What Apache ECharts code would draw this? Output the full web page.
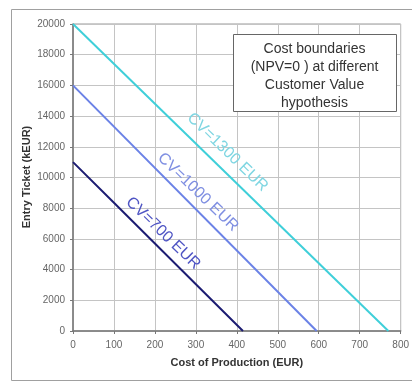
<!DOCTYPE html>
<html><head><meta charset="utf-8">
<script src="https://cdn.jsdelivr.net/npm/echarts@6/dist/echarts.min.js"></script>
<style>html,body{margin:0;padding:0;background:#fff}#c{width:412px;height:381px}</style>
</head><body><div id="c"></div>
<script>
var cv1300 = [[0,20000],[770,0]];
var cv1000 = [[0,16000],[595,0]];
var cv700 = [[0,11000],[100,8350],[200,5700],[300,3050],[415,0]];
var lineNames = ['CV=1300 EUR','CV=1000 EUR','CV=700 EUR'];
var labelPos = [[377,11650],[305,9045],[220,6370]];
var xTicks = [0,100,200,300,400,500,600,700,800];
var yTicks = [0,2000,4000,6000,8000,10000,12000,14000,16000,18000,20000];
var titleLines = ['Cost boundaries','(NPV=0 ) at different','Customer Value','hypothesis'];
var xAxisName = 'Cost of Production (EUR)';
var yAxisName = 'Entry Ticket (kEUR)';

var lineColors = ['#3fcfd9','#6b82e6','#1c1c72'];
var labelColors = ['#7fd6e2','#7f8fe2','#4f55c4'];
var datasets = [cv1300, cv1000, cv700];

var chart = echarts.init(document.getElementById('c'));
var series = datasets.map(function(d,i){
  return {
    type:'line', data:d, showSymbol:false, symbol:'none',
    lineStyle:{color:lineColors[i], width:2},
    silent:true,
    markPoint:{
      symbol:'circle', symbolSize:0,
      data:[{coord:labelPos[i], value:lineNames[i]}],
      label:{show:true, formatter:lineNames[i], rotate:-44, color:labelColors[i],
        fontFamily:'Liberation Sans, Arial, sans-serif', fontSize:16, position:'inside'}
    }
  };
});
chart.setOption({
  animation:false,
  grid:{left:73, top:24, right:9, bottom:50, show:true, borderColor:'#999', borderWidth:1},
  xAxis:{type:'value', min:xTicks[0], max:xTicks[xTicks.length-1], interval:xTicks[1]-xTicks[0],
    name:xAxisName, nameLocation:'middle', nameGap:26,
    nameTextStyle:{fontFamily:'Liberation Sans, Arial, sans-serif', fontSize:11, fontWeight:'bold', color:'#333'},
    axisLine:{show:true, lineStyle:{color:'#777', width:1.5}},
    axisTick:{show:true, length:3, lineStyle:{color:'#777'}},
    axisLabel:{color:'#666', fontSize:10, fontFamily:'Liberation Sans, Arial, sans-serif', margin:9,
      formatter:function(v){return String(v);}},
    splitLine:{show:true, lineStyle:{color:'#c4c4c4'}}},
  yAxis:{type:'value', min:yTicks[0], max:yTicks[yTicks.length-1], interval:yTicks[1]-yTicks[0],
    axisLine:{show:true, lineStyle:{color:'#777', width:1.5}},
    axisTick:{show:true, length:3, lineStyle:{color:'#777'}},
    axisLabel:{color:'#666', fontSize:10, fontFamily:'Liberation Sans, Arial, sans-serif', margin:8,
      formatter:function(v){return String(v);}},
    splitLine:{show:true, lineStyle:{color:'#c4c4c4'}}},
  graphic:[
    {type:'rect', left:9, top:7, shape:{width:420, height:371}, style:{fill:'none', stroke:'#a0a0a0', lineWidth:1}, z:-10},
    {type:'text', x:27, y:177, rotation:Math.PI/2, z:50,
      style:{text:yAxisName, textAlign:'center', textVerticalAlign:'middle', font:'bold 11px Liberation Sans, Arial, sans-serif', fill:'#333'}},
    {type:'rect', left:233, top:34, shape:{width:163, height:77}, style:{fill:'#fff', stroke:'#666', lineWidth:1}, z:100},
    {type:'text', x:314.5, y:40, z:101,
      style:{text:titleLines.join('\n'), textAlign:'center', textVerticalAlign:'top', font:'14px Liberation Sans, Arial, sans-serif', fill:'#333', lineHeight:18}}
  ],
  series:series
});
</script></body></html>
